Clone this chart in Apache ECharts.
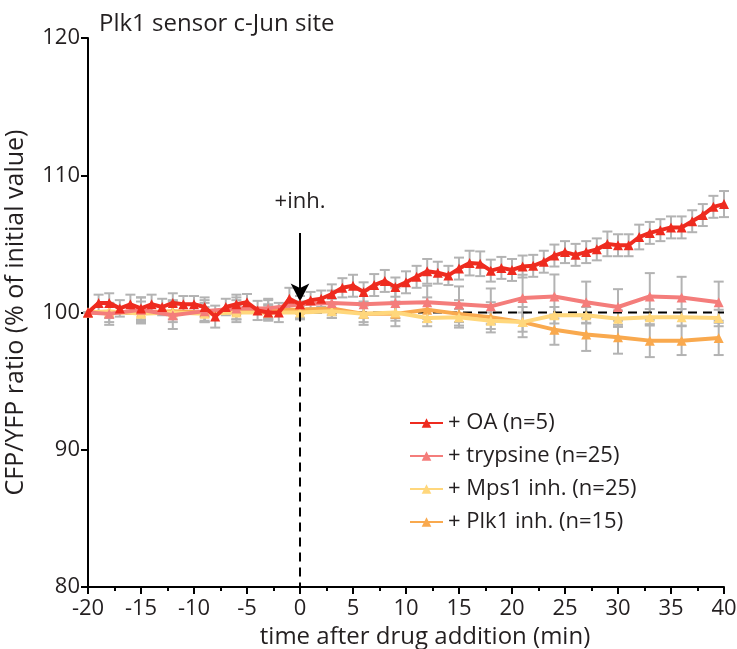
<!DOCTYPE html>
<html>
<head>
<meta charset="utf-8">
<script src="https://cdn.jsdelivr.net/npm/echarts@6/dist/echarts.min.js"></script>
<style>
  html, body { margin: 0; padding: 0; background: #fff; }
  #chart { width: 737px; height: 649px; }
</style>
</head>
<body>
<div id="chart"></div>
<script>
// time points (min)
var timeOA = []
for (var t = -20; t <= 40; t++) timeOA.push(t)
var timeOther = [-20, -18, -15, -12, -9, -6, -3, 0, 3, 6, 9, 12, 15, 18, 21, 24, 27, 30, 33, 36, 39.5]

// + OA (n=5), one point per minute
var valOA = [
  100.0, 100.7, 100.7, 100.3, 100.6, 100.3, 100.6, 100.4, 100.7, 100.6,
  100.6, 100.4, 99.7, 100.4, 100.6, 100.75, 100.15, 100.0, 100.0, 101.0,
  100.6, 100.9, 101.0, 101.35, 101.8, 101.95, 101.5, 102.0, 102.3, 101.85,
  102.2, 102.6, 103.0, 102.9, 102.7, 103.2, 103.6, 103.55, 103.05, 103.25,
  103.1, 103.35, 103.4, 103.7, 104.15, 104.4, 104.2, 104.4, 104.6, 105.0,
  104.9, 104.9, 105.5, 105.8, 106.0, 106.2, 106.2, 106.65, 107.1, 107.7,
  107.9
]
var errOA = [
  0, 0.6, 0.7, 0.6, 0.7, 0.8, 0.7, 0.6, 0.7, 0.6,
  0.6, 0.7, 0.8, 0.6, 0.7, 0.6, 0.7, 0.6, 0.7, 0.8,
  0.6, 0.6, 0.6, 0.7, 0.7, 0.8, 0.7, 0.8, 0.8, 0.7,
  0.8, 0.8, 0.9, 0.8, 0.7, 0.8, 0.9, 0.9, 0.8, 0.8,
  0.8, 0.8, 0.8, 0.8, 0.8, 0.8, 0.8, 0.8, 0.8, 0.9,
  0.8, 0.8, 0.9, 0.8, 0.8, 0.8, 0.8, 0.8, 0.8, 0.8,
  0.95
]

// + trypsine (n=25)
var valTryp = [100.0, 99.9, 100.2, 99.8, 100.1, 100.3, 100.3, 100.6, 100.7, 100.6, 100.7, 100.75, 100.6, 100.45, 101.05, 101.17, 100.75, 100.4, 101.17, 101.1, 100.75]
var errTryp = [0, 0.8, 0.9, 1.0, 0.8, 0.8, 0.7, 0.6, 0.9, 1.0, 1.1, 1.2, 1.3, 1.3, 1.7, 1.6, 1.5, 1.3, 1.7, 1.5, 1.5]

// + Mps1 inh. (n=25)
var valMps1 = [100.0, 100.1, 99.9, 100.0, 99.9, 100.0, 100.0, 100.0, 100.1, 99.9, 100.0, 99.6, 99.65, 99.4, 99.3, 99.8, 99.8, 99.55, 99.65, 99.65, 99.6]
var errMps1 = [0, 0.5, 0.5, 0.5, 0.5, 0.5, 0.5, 0.5, 0.5, 0.6, 0.6, 0.6, 0.6, 0.6, 0.7, 0.6, 0.6, 0.6, 0.6, 0.6, 0.6]

// + Plk1 inh. (n=15)
var valPlk1 = [100.0, 100.0, 100.0, 100.1, 100.0, 100.1, 100.2, 100.2, 100.3, 99.9, 99.9, 100.2, 99.9, 99.65, 99.3, 98.75, 98.4, 98.2, 97.95, 97.95, 98.15]
var errPlk1 = [0, 0.7, 0.8, 0.8, 0.7, 0.8, 0.7, 0.6, 0.7, 0.8, 0.9, 0.9, 1.0, 1.1, 1.1, 1.1, 1.2, 1.2, 1.2, 1.05, 1.25]

var xTicks = { min: -20, max: 40, interval: 5 }
var yTicks = { min: 80, max: 120, interval: 10 }

function pairs (xs, ys) {
  return xs.map(function (x, i) { return [x, ys[i]] })
}
function bars (xs, ys, es) {
  return xs.map(function (x, i) { return [x, ys[i] - es[i], ys[i] + es[i]] })
}

// gray error bars with caps
function errorSeries (data) {
  return {
    type: 'custom',
    silent: true,
    z: 1,
    renderItem: function (params, api) {
      var x = api.value(0)
      var lo = api.coord([x, api.value(1)])
      var hi = api.coord([x, api.value(2)])
      var w = 5
      var st = { stroke: '#b3b3b3', lineWidth: 2 }
      return {
        type: 'group',
        children: [
          { type: 'line', shape: { x1: lo[0], y1: lo[1], x2: hi[0], y2: hi[1] }, style: st },
          { type: 'line', shape: { x1: lo[0] - w, y1: lo[1], x2: lo[0] + w, y2: lo[1] }, style: st },
          { type: 'line', shape: { x1: hi[0] - w, y1: hi[1], x2: hi[0] + w, y2: hi[1] }, style: st }
        ]
      }
    },
    data: data
  }
}

function lineSeries (name, xs, ys, color, z) {
  return {
    name: name,
    type: 'line',
    z: z,
    data: pairs(xs, ys),
    symbol: 'triangle',
    symbolSize: 10,
    showSymbol: true,
    lineStyle: { color: color, width: 4 },
    itemStyle: { color: color },
    animation: false
  }
}

var font = '"Open Sans", "DejaVu Sans", sans-serif'
var ink = '#231f20'
var chart = echarts.init(document.getElementById('chart'))

var option = {
  animation: false,
  textStyle: { fontFamily: font },
  title: {
    text: 'Plk1 sensor c-Jun site',
    left: 94,
    top: 7,
    textStyle: { fontFamily: font, fontSize: 24, fontWeight: 'normal', color: ink }
  },
  legend: {
    orient: 'vertical',
    left: 404,
    top: 407,
    itemWidth: 33,
    itemHeight: 12,
    itemGap: 11,
    textStyle: { fontFamily: font, fontSize: 22, lineHeight: 22, color: ink },
    data: ['+ OA (n=5)', '+ trypsine (n=25)', '+ Mps1 inh. (n=25)', '+ Plk1 inh. (n=15)']
  },
  grid: { left: 88, right: 13, top: 38, bottom: 62, outerBoundsMode: 'none', containLabel: false },
  xAxis: {
    type: 'value',
    min: xTicks.min,
    max: xTicks.max,
    interval: xTicks.interval,
    name: 'time after drug addition (min)',
    nameLocation: 'middle',
    nameGap: 37,
    nameTextStyle: { fontFamily: font, fontSize: 24, color: ink, padding: [0, 0, 0, 38] },
    axisLine: { onZero: false, lineStyle: { color: '#000', width: 2 } },
    axisTick: { length: 7, lineStyle: { color: '#000', width: 2 } },
    minorTick: { show: true, splitNumber: 2, length: 4, lineStyle: { color: '#000', width: 2 } },
    axisLabel: { fontFamily: font, fontSize: 22, color: ink, margin: 11 },
    splitLine: { show: false }
  },
  yAxis: {
    type: 'value',
    min: yTicks.min,
    max: yTicks.max,
    interval: yTicks.interval,
    name: 'CFP/YFP ratio (% of initial value)',
    nameLocation: 'middle',
    nameGap: 60,
    nameRotate: 90,
    nameTextStyle: { fontFamily: font, fontSize: 25, color: ink },
    axisLine: { show: true, onZero: false, lineStyle: { color: '#000', width: 2 } },
    axisTick: { show: true, length: 7, lineStyle: { color: '#000', width: 2 } },
    axisLabel: { fontFamily: font, fontSize: 22, color: ink, margin: 8 },
    splitLine: { show: false }
  },
  series: [
    errorSeries(bars(timeOther, valPlk1, errPlk1)),
    errorSeries(bars(timeOther, valMps1, errMps1)),
    errorSeries(bars(timeOther, valTryp, errTryp)),
    errorSeries(bars(timeOA, valOA, errOA)),
    {
      type: 'line',
      z: 2,
      silent: true,
      symbol: 'none',
      data: [[-20, 100], [40, 100]],
      lineStyle: { color: '#000', width: 2, type: [9, 6] },
      markLine: {
        silent: true,
        symbol: ['none', 'none'],
        label: { show: false },
        lineStyle: { color: '#000', width: 2, type: [9, 6] },
        data: [[{ coord: [0, 100] }, { coord: [0, 80] }]]
      }
    },
    lineSeries('+ Plk1 inh. (n=15)', timeOther, valPlk1, '#f9a94e', 3),
    lineSeries('+ Mps1 inh. (n=25)', timeOther, valMps1, '#ffd77c', 4),
    lineSeries('+ trypsine (n=25)', timeOther, valTryp, '#f47d7b', 5),
    Object.assign(lineSeries('+ OA (n=5)', timeOA, valOA, '#ee2b1f', 6), {
      markLine: {
        silent: true,
        symbol: ['none', 'arrow'],
        symbolSize: [14, 18],
        lineStyle: { color: '#000', width: 2, type: 'solid' },
        label: {
          show: true,
          position: 'start',
          formatter: '+inh.',
          fontFamily: font,
          fontSize: 22,
          color: ink,
          distance: 20
        },
        data: [[{ coord: [0, 105.8] }, { coord: [0, 100.8] }]]
      }
    })
  ]
}
chart.setOption(option)
</script>
</body>
</html>
